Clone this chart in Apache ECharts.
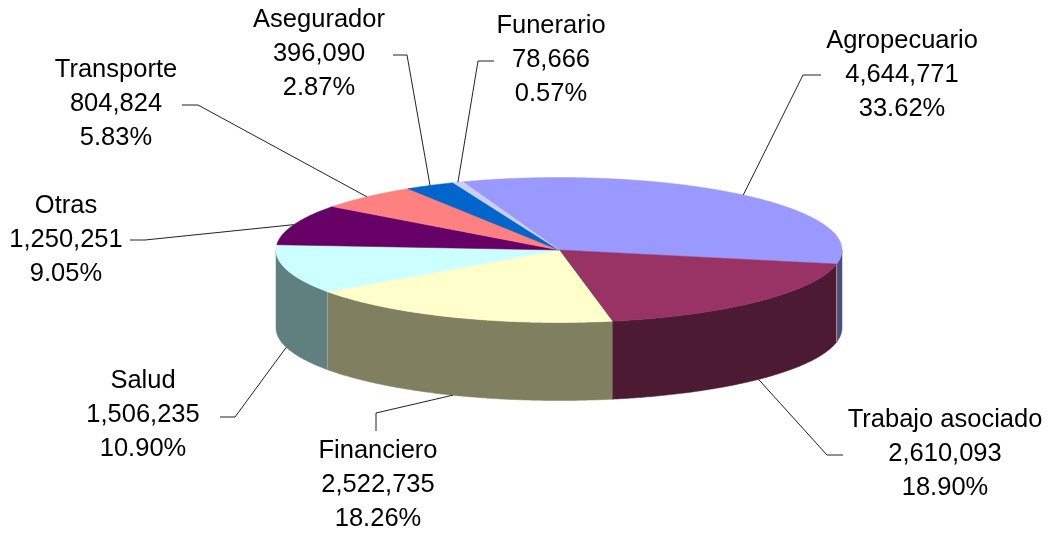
<!DOCTYPE html>
<html>
<head>
<meta charset="utf-8">
<style>
html,body{margin:0;padding:0;background:#fff;}
#chart{width:1055px;height:534px;}
</style>
<script src="https://cdn.jsdelivr.net/npm/echarts@6/dist/echarts.min.js"></script>
</head>
<body>
<div id="chart"></div>
<script>
const categories = ['Agropecuario','Trabajo asociado','Financiero','Salud','Otras','Transporte','Asegurador','Funerario'];
const values = [4644771,2610093,2522735,1506235,1250251,804824,396090,78666];

const topColors = ['#9999ff','#993366','#ffffcc','#ccffff','#660066','#ff8080','#0066cc','#ccccff'];
const wallColors = ['#4d4d80','#4d1a33','#808060','#608080','#330033','#804040','#003366','#666680'];

// where each label goes: text centre, then the elbow and end of its leader
const labelCenters = [[902,75],[945,454],[378,485],[143,415],[66,240],[116,104],[319,54],[551,60]];
const leaderElbows = [[803,75],[827,455],[376,413],[235,417],[145,240],[198,105],[407,55],[478,61]];
const leaderEnds = [[821,75],[843,455],[376,431],[220,417],[130,240],[182,105],[393,55],[494,61]];

const cx = 559, cy = 250, rx = 283, ry = 72.5, depth = 78;
const startAngle = -19.9;

const total = values.reduce((a,b)=>a+b,0);

// slice angles in degrees, clockwise from the top of the ellipse
let angles = [];
let acc = startAngle;
values.forEach((v)=>{
    let next = acc + v/total*360;
    angles.push([acc,next]);
    acc = next;
});

function ellipsePoint(deg,dy){
    let r = deg*Math.PI/180;
    return [cx + rx*Math.sin(r), cy - ry*Math.cos(r) + (dy||0)];
}

function arcPoints(a1,a2,dy){
    let pts = [];
    let n = Math.max(2,Math.ceil((a2-a1)/0.5));
    for(let i=0;i<=n;i++){
        pts.push(ellipsePoint(a1+(a2-a1)*i/n,dy));
    }
    return pts;
}

function renderTop(params){
    let a = angles[params.dataIndex];
    let color = topColors[params.dataIndex];
    return {
        type:'polygon',
        shape:{points:[[cx,cy]].concat(arcPoints(a[0],a[1]))},
        style:{fill:color,stroke:color,lineWidth:0.5}
    };
}

function renderWall(params){
    let i = params.dataIndex;
    let a = angles[i];
    let a1 = Math.max(a[0],90);
    let a2 = Math.min(a[1],270);
    if(a1 >= a2) return null;
    let color = wallColors[i];
    let children = [{
        type:'polygon',
        shape:{points:arcPoints(a1,a2).concat(arcPoints(a1,a2,depth).reverse())},
        style:{fill:color,stroke:color,lineWidth:0.5}
    }];
    // pale seam where Agropecuario/Trabajo and Financiero/Salud meet
    if(i === 0 || i === 2){
        children.push({
            type:'line',
            z2:5,
            shape:{x1:ellipsePoint(a2)[0],y1:ellipsePoint(a2)[1],x2:ellipsePoint(a2)[0],y2:ellipsePoint(a2,depth)[1]},
            style:{stroke:'#a0a0a0',lineWidth:1}
        });
    }
    return {type:'group',children:children};
}

function renderLabel(params){
    let i = params.dataIndex;
    let a = angles[i];
    let mid = (a[0]+a[1])/2;
    let onWall = mid > 90 && mid < 270;
    let anchor = ellipsePoint(mid,onWall ? depth : 0);
    let pct = (values[i]/total*100).toFixed(2)+'%';
    return {
        type:'group',
        children:[{
            type:'polyline',
            shape:{points:[anchor,leaderElbows[i],leaderEnds[i]]},
            style:{fill:null,stroke:'#222',lineWidth:1}
        },{
            type:'text',
            style:{
                text:categories[i]+'\n'+values[i].toLocaleString('en-US')+'\n'+pct,
                x:labelCenters[i][0],
                y:labelCenters[i][1],
                align:'center',
                verticalAlign:'middle',
                fontFamily:'Liberation Sans',
                fontSize:25.5,
                lineHeight:34,
                fill:'#000'
            }
        }]
    };
}

let myChart = echarts.init(document.getElementById('chart'),null,{renderer:'canvas'});
myChart.setOption({
    animation:false,
    backgroundColor:'#fff',
    series:[
        {type:'custom',coordinateSystem:'none',silent:true,z:1,data:values,renderItem:renderWall},
        {type:'custom',coordinateSystem:'none',silent:true,z:2,data:values,renderItem:renderTop},
        {type:'custom',coordinateSystem:'none',silent:true,z:3,data:values,renderItem:renderLabel}
    ]
});
</script>
</body>
</html>
